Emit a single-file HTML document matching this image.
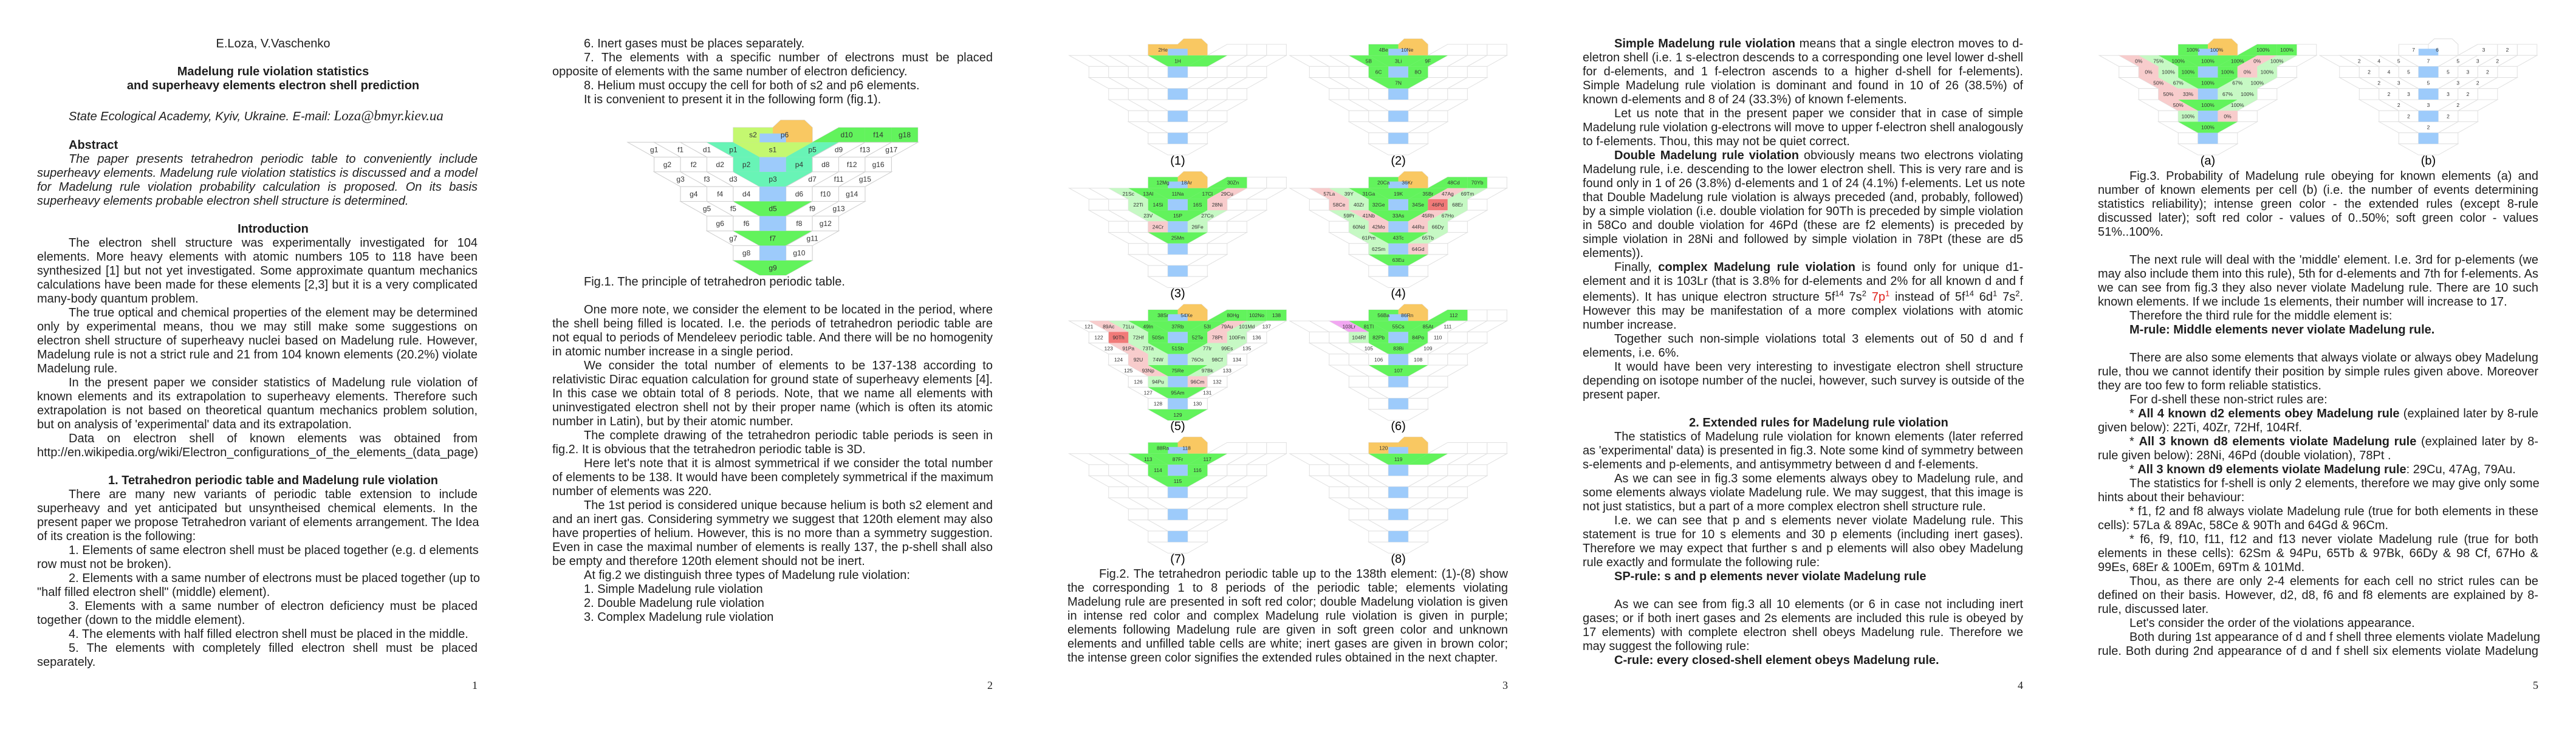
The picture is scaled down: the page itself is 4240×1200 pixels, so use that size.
<!DOCTYPE html>
<html><head><meta charset="utf-8">
<style>
html,body{margin:0;padding:0;background:#fff;}
body{width:4240px;height:1200px;position:relative;overflow:hidden;font-family:"Liberation Sans Narrow","Liberation Sans",sans-serif;color:#1e1e1e;}
.page{position:absolute;top:0;width:848px;height:1200px;}
.blk{position:absolute;left:61px;width:725px;font-size:20px;}
.blk div{height:23px;line-height:23px;white-space:nowrap;}
.j{text-align:justify;text-align-last:justify;}
.l{text-align:left;}
.i{padding-left:52px;}
.c{text-align:center;padding-left:52px;}
.it{font-style:italic;}
b{font-weight:bold;}
sup{font-size:13px;line-height:0;}
.pn{position:absolute;top:1118px;left:61px;width:725px;text-align:right;font-family:"Liberation Serif",serif;font-size:18px;}
svg{position:absolute;left:0;top:0;}
</style></head>
<body>
<svg id="figs" width="4240" height="1200" xmlns="http://www.w3.org/2000/svg"></svg>

<div class="page" style="left:0">
<div class="blk" style="top:61px">
<div class="c">E.Loza, V.Vaschenko</div>
<div></div>
<div class="c"><b>Madelung rule violation statistics</b></div>
<div class="c"><b>and superheavy elements electron shell prediction</b></div>
<div></div>
<div class="i it" style="height:29px;line-height:29px">State Ecological Academy, Kyiv, Ukraine. E-mail: <span style="font-family:'Liberation Serif',serif;font-size:23px">Loza@bmyr.kiev.ua</span></div>
<div></div>
<div class="i"><b>Abstract</b></div>
<div class="i j it">The paper presents tetrahedron periodic table to conveniently include</div>
<div class="j it">superheavy elements. Madelung rule violation statistics is discussed and a model</div>
<div class="j it">for Madelung rule violation probability calculation is proposed. On its basis</div>
<div class="l it">superheavy elements probable electron shell structure is determined.</div>
<div></div>
<div class="c"><b>Introduction</b></div>
<div class="i j">The electron shell structure was experimentally investigated for 104</div>
<div class="j">elements. More heavy elements with atomic numbers 105 to 118 have been</div>
<div class="j">synthesized [1] but not yet investigated. Some approximate quantum mechanics</div>
<div class="j">calculations have been made for these elements [2,3] but it is a very complicated</div>
<div class="l">many-body quantum problem.</div>
<div class="i j">The true optical and chemical properties of the element may be determined</div>
<div class="j">only by experimental means, thou we may still make some suggestions on</div>
<div class="j">electron shell structure of superheavy nuclei based on Madelung rule. However,</div>
<div class="j">Madelung rule is not a strict rule and 21 from 104 known elements (20.2%) violate</div>
<div class="l">Madelung rule.</div>
<div class="i j">In the present paper we consider statistics of Madelung rule violation of</div>
<div class="j">known elements and its extrapolation to superheavy elements. Therefore such</div>
<div class="j">extrapolation is not based on theoretical quantum mechanics problem solution,</div>
<div class="l">but on analysis of 'experimental' data and its extrapolation.</div>
<div class="i j">Data on electron shell of known elements was obtained from</div>
<div class="l">http://en.wikipedia.org/wiki/Electron_configurations_of_the_elements_(data_page)</div>
<div></div>
<div class="c"><b>1. Tetrahedron periodic table and Madelung rule violation</b></div>
<div class="i j">There are many new variants of periodic table extension to include</div>
<div class="j">superheavy and yet anticipated but unsyntheised chemical elements. In the</div>
<div class="j">present paper we propose Tetrahedron variant of elements arrangement. The Idea</div>
<div class="l">of its creation is the following:</div>
<div class="i j">1. Elements of same electron shell must be placed together (e.g. d elements</div>
<div class="l">row must not be broken).</div>
<div class="i j">2. Elements with a same number of electrons must be placed together (up to</div>
<div class="l">"half filled electron shell" (middle) element).</div>
<div class="i j">3. Elements with a same number of electron deficiency must be placed</div>
<div class="l">together (down to the middle element).</div>
<div class="i l">4. The elements with half filled electron shell must be placed in the middle.</div>
<div class="i j">5. The elements with completely filled electron shell must be placed</div>
<div class="l">separately.</div>
</div>
<div class="pn">1</div>
</div>

<div class="page" style="left:848px">
<div class="blk" style="top:61px">
<div class="i l">6. Inert gases must be places separately.</div>
<div class="i j">7. The elements with a specific number of electrons must be placed</div>
<div class="l">opposite of elements with the same number of electron deficiency.</div>
<div class="i l">8. Helium must occupy the cell for both of s2 and p6 elements.</div>
<div class="i l">It is convenient to present it in the following form (fig.1).</div>
</div>
<div class="blk" style="top:453px">
<div class="i l">Fig.1. The principle of tetrahedron periodic table.</div>
<div></div>
<div class="i j">One more note, we consider the element to be located in the period, where</div>
<div class="j">the shell being filled is located. I.e. the periods of tetrahedron periodic table are</div>
<div class="j">not equal to periods of Mendeleev periodic table. And there will be no homogenity</div>
<div class="l">in atomic number increase in a single period.</div>
<div class="i j">We consider the total number of elements to be 137-138 according to</div>
<div class="j">relativistic Dirac equation calculation for ground state of superheavy elements [4].</div>
<div class="j">In this case we obtain total of 8 periods. Note, that we name all elements with</div>
<div class="j">uninvestigated electron shell not by their proper name (which is often its atomic</div>
<div class="l">number in Latin), but by their atomic number.</div>
<div class="i j">The complete drawing of the tetrahedron periodic table periods is seen in</div>
<div class="l">fig.2. It is obvious that the tetrahedron periodic table is 3D.</div>
<div class="i j">Here let's note that it is almost symmetrical if we consider the total number</div>
<div class="j">of elements to be 138. It would have been completely symmetrical if the maximum</div>
<div class="l">number of elements was 220.</div>
<div class="i j">The 1st period is considered unique because helium is both s2 element and</div>
<div class="j">and an inert gas. Considering symmetry we suggest that 120th element may also</div>
<div class="j">have properties of helium. However, this is no more than a symmetry suggestion.</div>
<div class="j">Even in case the maximal number of elements is really 137, the p-shell shall also</div>
<div class="l">be empty and therefore 120th element should not be inert.</div>
<div class="i l">At fig.2 we distinguish three types of Madelung rule violation:</div>
<div class="i l">1. Simple Madelung rule violation</div>
<div class="i l">2. Double Madelung rule violation</div>
<div class="i l">3. Complex Madelung rule violation</div>
</div>
<div class="pn">2</div>
</div>

<div class="page" style="left:1696px">
<div class="blk" style="top:934px">
<div class="i j">Fig.2. The tetrahedron periodic table up to the 138th element: (1)-(8) show</div>
<div class="j">the corresponding 1 to 8 periods of the periodic table; elements violating</div>
<div class="j">Madelung rule are presented in soft red color; double Madelung violation is given</div>
<div class="j">in intense red color and complex Madelung rule violation is given in purple;</div>
<div class="j">elements following Madelung rule are given in soft green color and unknown</div>
<div class="j">elements and unfilled table cells are white; inert gases are given in brown color;</div>
<div class="l">the intense green color signifies the extended rules obtained in the next chapter.</div>
</div>
<div class="pn">3</div>
</div>

<div class="page" style="left:2544px">
<div class="blk" style="top:61px">
<div class="i j"><b>Simple Madelung rule violation</b> means that a single electron moves to d-</div>
<div class="j">eletron shell (i.e. 1 s-electron descends to a corresponding one level lower d-shell</div>
<div class="j">for d-elements, and 1 f-electron ascends to a higher d-shell for f-elements).</div>
<div class="j">Simple Madelung rule violation is dominant and found in 10 of 26 (38.5%) of</div>
<div class="l">known d-elements and 8 of 24 (33.3%) of known f-elements.</div>
<div class="i j">Let us note that in the present paper we consider that in case of simple</div>
<div class="j">Madelung rule violation g-electrons will move to upper f-electron shell analogously</div>
<div class="l">to f-elements. Thou, this may not be quiet correct.</div>
<div class="i j"><b>Double Madelung rule violation</b> obviously means two electrons violating</div>
<div class="j">Madelung rule, i.e. descending to the lower electron shell. This is very rare and is</div>
<div class="j">found only in 1 of 26 (3.8%) d-elements and 1 of 24 (4.1%) f-elements. Let us note</div>
<div class="j">that Double Madelung rule violation is always preceded (and, probably, followed)</div>
<div class="j">by a simple violation (i.e. double violation for 90Th is preceded by simple violation</div>
<div class="j">in 58Co and double violation for 46Pd (these are f2 elements) is preceded by</div>
<div class="j">simple violation in 28Ni and followed by simple violation in 78Pt (these are d5</div>
<div class="l">elements)).</div>
<div class="i j">Finally, <b>complex Madelung rule violation</b> is found only for unique d1-</div>
<div class="j">element and it is 103Lr (that is 3.8% for d-elements and 2% for all known d and f</div>
<div class="j" style="height:26px;line-height:29px">elements). It has unique electron structure 5f<sup>14</sup> 7s<sup>2</sup> <span style="color:#e0201c">7p<sup>1</sup></span> instead of 5f<sup>14</sup> 6d<sup>1</sup> 7s<sup>2</sup>.</div>
<div class="j">However this may be manifestation of a more complex violations with atomic</div>
<div class="l">number increase.</div>
<div class="i j">Together such non-simple violations total 3 elements out of 50 d and f</div>
<div class="l">elements, i.e. 6%.</div>
<div class="i j">It would have been very interesting to investigate electron shell structure</div>
<div class="j">depending on isotope number of the nuclei, however, such survey is outside of the</div>
<div class="l">present paper.</div>
<div></div>
<div class="c"><b>2. Extended rules for Madelung rule violation</b></div>
<div class="i j">The statistics of Madelung rule violation for known elements (later referred</div>
<div class="j">as 'experimental' data) is presented in fig.3. Note some kind of symmetry between</div>
<div class="l">s-elements and p-elements, and antisymmetry between d and f-elements.</div>
<div class="i j">As we can see in fig.3 some elements always obey to Madelung rule, and</div>
<div class="j">some elements always violate Madelung rule. We may suggest, that this image is</div>
<div class="l">not just statistics, but a part of a more complex electron shell structure rule.</div>
<div class="i j">I.e. we can see that p and s elements never violate Madelung rule. This</div>
<div class="j">statement is true for 10 s elements and 30 p elements (including inert gases).</div>
<div class="j">Therefore we may expect that further s and p elements will also obey Madelung</div>
<div class="l">rule exactly and formulate the following rule:</div>
<div class="i l"><b>SP-rule: s and p elements never violate Madelung rule</b></div>
<div></div>
<div class="i j">As we can see from fig.3 all 10 elements (or 6 in case not including inert</div>
<div class="j">gases; or if both inert gases and 2s elements are included this rule is obeyed by</div>
<div class="j">17 elements) with complete electron shell obeys Madelung rule. Therefore we</div>
<div class="l">may suggest the following rule:</div>
<div class="i l"><b>C-rule: every closed-shell element obeys Madelung rule.</b></div>
</div>
<div class="pn">4</div>
</div>

<div class="page" style="left:3392px">
<div class="blk" style="top:279px">
<div class="i j">Fig.3. Probability of Madelung rule obeying for known elements (a) and</div>
<div class="j">number of known elements per cell (b) (i.e. the number of events determining</div>
<div class="j">statistics reliability); intense green color - the extended rules (except 8-rule</div>
<div class="j">discussed later); soft red color - values of 0..50%; soft green color - values</div>
<div class="l">51%..100%.</div>
<div></div>
<div class="i j">The next rule will deal with the 'middle' element. I.e. 3rd for p-elements (we</div>
<div class="j">may also include them into this rule), 5th for d-elements and 7th for f-elements. As</div>
<div class="j">we can see from fig.3 they also never violate Madelung rule. There are 10 such</div>
<div class="l">known elements. If we include 1s elements, their number will increase to 17.</div>
<div class="i l">Therefore the third rule for the middle element is:</div>
<div class="i l"><b>M-rule: Middle elements never violate Madelung rule.</b></div>
<div></div>
<div class="i j">There are also some elements that always violate or always obey Madelung</div>
<div class="j">rule, thou we cannot identify their position by simple rules given above. Moreover</div>
<div class="l">they are too few to form reliable statistics.</div>
<div class="i l">For d-shell these non-strict rules are:</div>
<div class="i j">* <b>All 4 known d2 elements obey Madelung rule</b> (explained later by 8-rule</div>
<div class="l">given below): 22Ti, 40Zr, 72Hf, 104Rf.</div>
<div class="i j">* <b>All 3 known d8 elements violate Madelung rule</b> (explained later by 8-</div>
<div class="l">rule given below): 28Ni, 46Pd (double violation), 78Pt .</div>
<div class="i l">* <b>All 3 known d9 elements violate Madelung rule</b>: 29Cu, 47Ag, 79Au.</div>
<div class="i j">The statistics for f-shell is only 2 elements, therefore we may give only some</div>
<div class="l">hints about their behaviour:</div>
<div class="i j">* f1, f2 and f8 always violate Madelung rule (true for both elements in these</div>
<div class="l">cells): 57La &amp; 89Ac, 58Ce &amp; 90Th and 64Gd &amp; 96Cm.</div>
<div class="i j">* f6, f9, f10, f11, f12 and f13 never violate Madelung rule (true for both</div>
<div class="j">elements in these cells): 62Sm &amp; 94Pu, 65Tb &amp; 97Bk, 66Dy &amp; 98 Cf, 67Ho &amp;</div>
<div class="l">99Es, 68Er &amp; 100Em, 69Tm &amp; 101Md.</div>
<div class="i j">Thou, as there are only 2-4 elements for each cell no strict rules can be</div>
<div class="j">defined on their basis. However, d2, d8, f6 and f8 elements are explained by 8-</div>
<div class="l">rule, discussed later.</div>
<div class="i l">Let's consider the order of the violations appearance.</div>
<div class="i j">Both during 1st appearance of d and f shell three elements violate Madelung</div>
<div class="j">rule. Both during 2nd appearance of d and f shell six elements violate Madelung</div>
</div>
<div class="pn">5</div>
</div>

<script>
// colour keys: G intense green, g soft green, r soft red, R intense red, P purple, O orange, T teal, Y yellow-green, W white
const fig1Cells = [[0,'s2','s2','Y'],[0,'p6','p6','O'],[0,'d10','d10','G'],[0,'f14','f14','G'],[0,'g18','g18','G'],
[1,-4,'g1','W'],[1,-3,'f1','W'],[1,-2,'d1','W'],[1,-1,'p1','T'],[1,0,'s1','Y'],[1,1,'p5','T'],[1,2,'d9','W'],[1,3,'f13','W'],[1,4,'g17','W'],
[2,-4,'g2','W'],[2,-3,'f2','W'],[2,-2,'d2','W'],[2,-1,'p2','T'],[2,1,'p4','T'],[2,2,'d8','W'],[2,3,'f12','W'],[2,4,'g16','W'],
[3,-3,'g3','W'],[3,-2,'f3','W'],[3,-1,'d3','W'],[3,0,'p3','T'],[3,1,'d7','W'],[3,2,'f11','W'],[3,3,'g15','W'],
[4,-3,'g4','W'],[4,-2,'f4','W'],[4,-1,'d4','W'],[4,1,'d6','W'],[4,2,'f10','W'],[4,3,'g14','W'],
[5,-2,'g5','W'],[5,-1,'f5','W'],[5,0,'d5','G'],[5,1,'f9','W'],[5,2,'g13','W'],
[6,-2,'g6','W'],[6,-1,'f6','W'],[6,1,'f8','W'],[6,2,'g12','W'],
[7,-1,'g7','W'],[7,0,'f7','G'],[7,1,'g11','W'],[8,-1,'g8','W'],[8,1,'g10','W'],[9,0,'g9','G']];
const period1 = [[0,'s2','2He','O'],[0,'p6','','O'],[1,0,'1H','G'],[1,1,'','G']];
const period2 = [[0,'s2','4Be','G'],[0,'p6','10Ne','O'],[1,-1,'5B','G'],[1,0,'3Li','G'],[1,1,'9F','G'],[2,-1,'6C','G'],[2,1,'8O','G'],[3,0,'7N','G']];
const period3 = [[0,'s2','12Mg','G'],[0,'p6','18Ar','O'],[0,'d10','30Zn','G'],[1,-2,'21Sc','g'],[1,-1,'13Al','G'],[1,0,'11Na','G'],[1,1,'17Cl','G'],[1,2,'29Cu','r'],
[2,-2,'22Ti','g'],[2,-1,'14Si','G'],[2,1,'16S','G'],[2,2,'28Ni','r'],[3,-1,'23V','g'],[3,0,'15P','G'],[3,1,'27Co','g'],[4,-1,'24Cr','r'],[4,1,'26Fe','g'],[5,0,'25Mn','G']];
const period4 = [[0,'s2','20Ca','G'],[0,'p6','36Kr','O'],[0,'d10','48Cd','G'],[0,'f14','70Yb','G'],
[1,-3,'57La','r'],[1,-2,'39Y','g'],[1,-1,'31Ga','G'],[1,0,'19K','G'],[1,1,'35Br','G'],[1,2,'47Ag','r'],[1,3,'69Tm','g'],
[2,-3,'58Ce','r'],[2,-2,'40Zr','g'],[2,-1,'32Ge','G'],[2,1,'34Se','G'],[2,2,'46Pd','R'],[2,3,'68Er','g'],
[3,-2,'59Pr','g'],[3,-1,'41Nb','r'],[3,0,'33As','G'],[3,1,'45Rh','r'],[3,2,'67Ho','g'],
[4,-2,'60Nd','g'],[4,-1,'42Mo','r'],[4,1,'44Ru','r'],[4,2,'66Dy','g'],
[5,-1,'61Pm','g'],[5,0,'43Tc','G'],[5,1,'65Tb','g'],[6,-1,'62Sm','g'],[6,1,'64Gd','r'],[7,0,'63Eu','G']];
const period5 = [[0,'s2','38Sr','G'],[0,'p6','54Xe','O'],[0,'d10','80Hg','G'],[0,'f14','102No','G'],[0,'g18','138','G'],
[1,-4,'121','W'],[1,-3,'89Ac','r'],[1,-2,'71Lu','g'],[1,-1,'49In','G'],[1,0,'37Rb','G'],[1,1,'53I','G'],[1,2,'79Au','r'],[1,3,'101Md','g'],[1,4,'137','W'],
[2,-4,'122','W'],[2,-3,'90Th','R'],[2,-2,'72Hf','g'],[2,-1,'50Sn','G'],[2,1,'52Te','G'],[2,2,'78Pt','r'],[2,3,'100Fm','g'],[2,4,'136','W'],
[3,-3,'123','W'],[3,-2,'91Pa','r'],[3,-1,'73Ta','g'],[3,0,'51Sb','G'],[3,1,'77Ir','g'],[3,2,'99Es','g'],[3,3,'135','W'],
[4,-3,'124','W'],[4,-2,'92U','r'],[4,-1,'74W','g'],[4,1,'76Os','g'],[4,2,'98Cf','g'],[4,3,'134','W'],
[5,-2,'125','W'],[5,-1,'93Np','r'],[5,0,'75Re','G'],[5,1,'97Bk','g'],[5,2,'133','W'],
[6,-2,'126','W'],[6,-1,'94Pu','g'],[6,1,'96Cm','r'],[6,2,'132','W'],
[7,-1,'127','W'],[7,0,'95Am','G'],[7,1,'131','W'],[8,-1,'128','W'],[8,1,'130','W'],[9,0,'129','G']];
const period6 = [[0,'s2','56Ba','G'],[0,'p6','86Rn','O'],[0,'d10','112','G'],[1,-2,'103Lr','P'],[1,-1,'81Tl','G'],[1,0,'55Cs','G'],[1,1,'85At','G'],[1,2,'111','W'],
[2,-2,'104Rf','g'],[2,-1,'82Pb','G'],[2,1,'84Po','G'],[2,2,'110','W'],[3,-1,'105','W'],[3,0,'83Bi','G'],[3,1,'109','W'],[4,-1,'106','W'],[4,1,'108','W'],[5,0,'107','G']];
const period7 = [[0,'s2','88Ra','G'],[0,'p6','118','O'],[1,-1,'113','G'],[1,0,'87Fr','G'],[1,1,'117','G'],[2,-1,'114','G'],[2,1,'116','G'],[3,0,'115','G']];
const period8 = [[0,'s2','120','O'],[0,'p6','','O'],[1,0,'119','G'],[1,1,'','G']];
const fig3aCells = [[0,'s2','100%','G'],[0,'p6','100%','O'],[0,'d10','100%','G'],[0,'f14','100%','G'],
[1,-3,'0%','r'],[1,-2,'75%','g'],[1,-1,'100%','G'],[1,0,'100%','G'],[1,1,'100%','G'],[1,2,'0%','r'],[1,3,'100%','g'],
[2,-3,'0%','r'],[2,-2,'100%','g'],[2,-1,'100%','G'],[2,1,'100%','G'],[2,2,'0%','r'],[2,3,'100%','g'],
[3,-2,'50%','r'],[3,-1,'67%','g'],[3,0,'100%','G'],[3,1,'67%','g'],[3,2,'100%','g'],
[4,-2,'50%','r'],[4,-1,'33%','r'],[4,1,'67%','g'],[4,2,'100%','g'],
[5,-1,'50%','r'],[5,0,'100%','G'],[5,1,'100%','g'],[6,-1,'100%','g'],[6,1,'0%','r'],[7,0,'100%','G']];
const fig3bCells = [[0,'s2','7','W'],[0,'p6','6','W'],[0,'d10','3','W'],[0,'f14','2','W'],
[1,-3,'2','W'],[1,-2,'4','W'],[1,-1,'5','W'],[1,0,'7','W'],[1,1,'5','W'],[1,2,'3','W'],[1,3,'2','W'],
[2,-3,'2','W'],[2,-2,'4','W'],[2,-1,'5','W'],[2,1,'5','W'],[2,2,'3','W'],[2,3,'2','W'],
[3,-2,'2','W'],[3,-1,'3','W'],[3,0,'5','W'],[3,1,'3','W'],[3,2,'2','W'],
[4,-2,'2','W'],[4,-1,'3','W'],[4,1,'3','W'],[4,2,'2','W'],
[5,-1,'2','W'],[5,0,'3','W'],[5,1,'2','W'],[6,-1,'2','W'],[6,1,'2','W'],[7,0,'2','W']];
const fig2Labels = ['(1)','(2)','(3)','(4)','(5)','(6)','(7)','(8)'];
const fig3Labels = ['(a)','(b)'];

const COL = {G:'#62f35c',g:'#c6f9c4',r:'#f8cccc',R:'#f17a78',P:'#f2a6f2',O:'#f9c862',T:'#68f4b6',Y:'#c4f870',W:'#ffffff'};
const BLUE = '#9dcbfb';
const svg = document.getElementById('figs');
const NS = 'http://www.w3.org/2000/svg';

function kFor(r){ return r % 2 === 1 ? (9 - r) / 2 : (10 - r) / 2; }
function shape(cx, y0, w, h, row, pos){
  if (row === 0){
    const t = y0, b = y0 + h;
    if (pos === 's2') return [[cx-1.5*w,t],[cx,t],[cx,b],[cx-1.5*w,b]];
    if (pos === 'p6') return [[cx,b],[cx,t],[cx+0.3*w,t-0.5*h],[cx+1.2*w,t-0.5*h],[cx+1.5*w,t],[cx+1.5*w,b]];
    if (pos === 'd10') return [[cx+1.5*w,b],[cx+2.5*w,t],[cx+3.5*w,t],[cx+3.5*w,b]];
    if (pos === 'f14') return [[cx+3.5*w,t],[cx+4.5*w,t],[cx+4.5*w,b],[cx+3.5*w,b]];
    if (pos === 'g18') return [[cx+4.5*w,t],[cx+5.5*w,t],[cx+5.5*w,b],[cx+4.5*w,b]];
  }
  const t = y0 + row*h, b = t + h;
  if (row % 2 === 0) return [[cx+(pos-0.5)*w,t],[cx+(pos+0.5)*w,t],[cx+(pos+0.5)*w,b],[cx+(pos-0.5)*w,b]];
  if (pos === 0) return [[cx-1.5*w,t],[cx+1.5*w,t],[cx+0.5*w,b],[cx-0.5*w,b]];
  if (pos < 0){ const j = -pos; return [[cx-1.5*w-j*w,t],[cx-0.5*w-j*w,t],[cx+0.5*w-j*w,b],[cx-0.5*w-j*w,b]]; }
  const j = pos; return [[cx+0.5*w+j*w,t],[cx+1.5*w+j*w,t],[cx+0.5*w+j*w,b],[cx-0.5*w+j*w,b]];
}
function poly(pts, fill, stroke, name){
  const p = document.createElementNS(NS,'polygon');
  p.setAttribute('points', pts.map(q=>q[0].toFixed(1)+','+q[1].toFixed(1)).join(' '));
  p.setAttribute('fill', fill); p.setAttribute('stroke', stroke); p.setAttribute('stroke-width','1');
  
  
  svg.appendChild(p);
}
function label(x, y, s, size){
  const t = document.createElementNS(NS,'text');
  t.setAttribute('x', x); t.setAttribute('y', y); t.setAttribute('text-anchor','middle');
  t.setAttribute('dominant-baseline','central');
  t.setAttribute('font-family','"Liberation Sans Narrow","Liberation Sans",sans-serif');
  t.setAttribute('font-size', size); t.setAttribute('fill','#333');
  t.textContent = s;
  
  
  svg.appendChild(t);
}
function drawTable(cx, y0, w, h, cells, fs, stroke){
  const topPos = ['s2','p6','d10','f14','g18'];
  topPos.forEach(p => poly(shape(cx,y0,w,h,0,p), '#fff', stroke, 'empty-cell'));
  for (let r = 1; r <= 9; r++){
    const k = kFor(r);
    for (let p = -k; p <= k; p++) poly(shape(cx,y0,w,h,r,p), '#fff', stroke, 'empty-cell');
  }
  cells.forEach(c => {
    const pts = shape(cx,y0,w,h,c[0],c[1]);
    poly(pts, COL[c[3]], c[3]==='W' ? stroke : 'none', 'element-cell');
  });
  // blue spine
  poly([[cx-0.5*w,y0+0.4*h],[cx+0.5*w,y0+0.4*h],[cx+0.5*w,y0+h],[cx-0.5*w,y0+h]], BLUE, 'none', 'spine-cell');
  for (let r = 2; r <= 8; r += 2) poly(shape(cx,y0,w,h,r,0), BLUE, 'none', 'spine-cell');
  cells.forEach(c => {
    if (!c[2]) return;
    const pts = shape(cx,y0,w,h,c[0],c[1]);
    let x, y;
    if (c[0] === 0){ x = (pts[0][0] + pts[pts.length-1][0] + pts[1][0] + pts[2][0]) / 4; if (c[1]==='p6') x = pts[0][0]+0.45*w; if (c[1]==='d10') x = pts[0][0]+1.3*w; y = y0 + h/2; }
    else { x = (pts[0][0]+pts[1][0]+pts[2][0]+pts[3][0]) / 4; y = (pts[0][1]+pts[2][1]) / 2; }
    label(x, y, c[2], fs);
  });
}
// Fig.1 on page 2
drawTable(1272, 210, 43.4, 24.3, fig1Cells, 12, '#cfcfcf');
// Fig.2 on page 3
const fig2Periods = [period1, period2, period3, period4, period5, period6, period7, period8];
const fig2Cx = [1938.5, 2301.6];
fig2Periods.forEach((cells, i) => {
  const cx = fig2Cx[i % 2], y0 = 73 + Math.floor(i / 2) * 218.5;
  drawTable(cx, y0, 32.5, 18.2, cells, 8.5, '#e0e0e0');
  const t = document.createElementNS(NS,'text');
  t.setAttribute('x', cx); t.setAttribute('y', y0 + 192); t.setAttribute('text-anchor','middle');
  t.setAttribute('dominant-baseline','central');
  t.setAttribute('font-family','"Liberation Sans Narrow","Liberation Sans",sans-serif'); t.setAttribute('font-size','20');
  t.textContent = fig2Labels[i];
  
  
  svg.appendChild(t);
});
// Fig.3 on page 5
const fig3Sets = [fig3aCells, fig3bCells];
const fig3Cx = [3634, 3997];
fig3Sets.forEach((cells, i) => {
  drawTable(fig3Cx[i], 73, 32.5, 18.2, cells, 8.5, '#e0e0e0');
  const t = document.createElementNS(NS,'text');
  t.setAttribute('x', fig3Cx[i]); t.setAttribute('y', 265); t.setAttribute('text-anchor','middle');
  t.setAttribute('dominant-baseline','central');
  t.setAttribute('font-family','"Liberation Sans Narrow","Liberation Sans",sans-serif'); t.setAttribute('font-size','20');
  t.textContent = fig3Labels[i];
  
  
  svg.appendChild(t);
});
</script>
</body></html>
